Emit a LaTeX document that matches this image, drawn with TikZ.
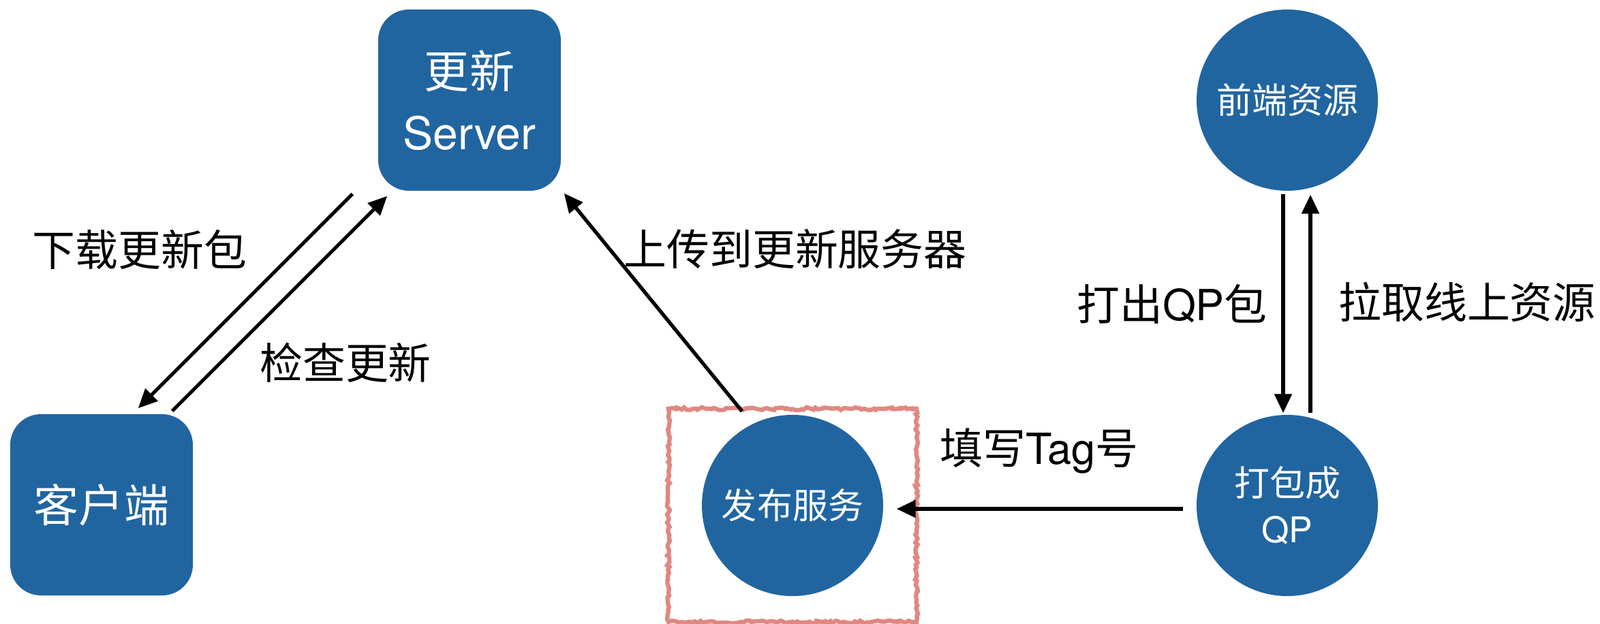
\documentclass[tikz,border=0pt]{standalone}
\usepackage{fontspec}
\setmainfont{TeX Gyre Heros}
\newfontfamily\cjk{Noto Sans CJK SC}
\usetikzlibrary{arrows.meta,decorations.pathmorphing}
\definecolor{nodeblue}{RGB}{33,101,160}
\definecolor{framered}{RGB}{224,136,130}
\tikzset{
  box/.style={fill=nodeblue, rounded corners=4.5mm, minimum width=2.68cm, minimum height=2.66cm, text=white, align=center, font=\fontsize{18.8}{25.5}\selectfont},
  disc/.style={circle, fill=nodeblue, minimum size=2.66cm, inner sep=0pt, text=white, align=center, font=\fontsize{14.8}{19.4}\selectfont},
  redframe/.style={draw=framered, line width=1.8pt, minimum width=3.64cm, minimum height=3.13cm, decorate, decoration={random steps,segment length=1.2pt,amplitude=0.6pt}},
  lbl/.style={font=\fontsize{17.9}{21}\selectfont},
  arr/.style={-{Triangle[length=2.8mm,width=2.5mm]}, line width=1.5pt},
}
\begin{document}
\begin{tikzpicture}
\useasboundingbox (0,0) rectangle (23.48,-9.16);
\node[box] (server) at (6.89,-1.47) {{\cjk 更新}\\Server};
\node[box] (client) at (1.49,-7.41) {\cjk 客户端};
\node[redframe] (pubbox) at (11.63,-7.565) {};
\node[disc] (publish) at (11.63,-7.42) {\cjk 发布服务};
\node[disc] (front) at (18.89,-1.47) {\cjk 前端资源};
\node[disc] (pack) at (18.89,-7.42) {{\cjk 打包成}\\QP};

\draw[arr] ([shift={(-0.37,-0.04)}]server.south west) -- ([shift={(-0.81,0.08)}]client.north east);
\draw[arr] ([shift={(-0.31,0.04)}]client.north east) -- ([shift={(0.14,-0.07)}]server.south west);
\draw[arr] ([shift={(-0.74,-0.07)}]pubbox.north) -- ([shift={(0.04,-0.03)}]server.south east);
\draw[arr] ([shift={(-0.19,-0.05)}]pack.west) -- ([shift={(0.19,-0.05)}]publish.east);
\draw[arr] ([shift={(-0.06,-0.04)}]front.south) -- ([shift={(-0.06,0.02)}]pack.north);
\draw[arr] ([shift={(0.34,0.02)}]pack.north) -- ([shift={(0.34,-0.05)}]front.south);

\node[lbl] (ldown) at (2.05,-3.67) {\cjk 下载更新包};
\node[lbl] (lcheck) at (5.07,-5.32) {\cjk 检查更新};
\node[lbl] (lupload) at (11.67,-3.66) {\cjk 上传到更新服务器};
\node[lbl] (ltag) at (15.25,-6.62) {{\cjk 填写}Tag{\cjk 号}};
\node[lbl] (lpack) at (17.20,-4.46) {{\cjk 打出}QP{\cjk 包}};
\node[lbl] (lpull) at (21.53,-4.43) {\cjk 拉取线上资源};
\end{tikzpicture}
\end{document}
